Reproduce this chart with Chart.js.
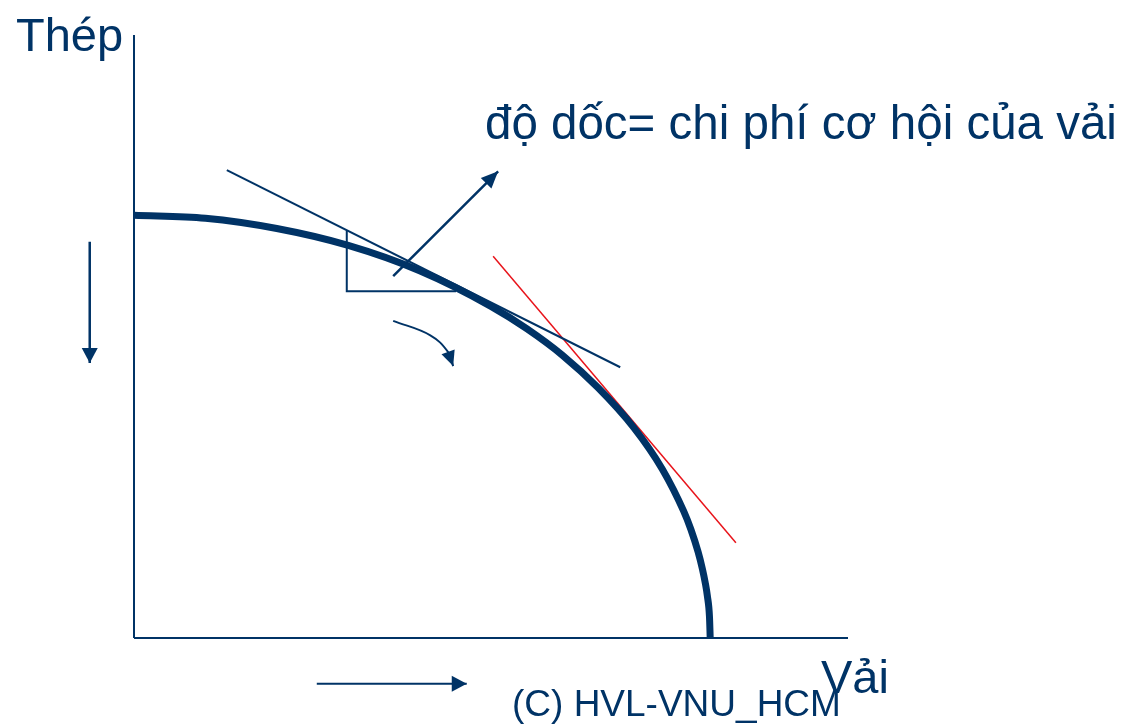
<!DOCTYPE html>
<html>
<head>
<meta charset="utf-8">
<script src="https://cdn.jsdelivr.net/npm/chart.js@4"></script>
<style>
  body { margin: 0; background: #fff; }
  #wrap { width: 1127px; height: 728px; }
</style>
</head>
<body>
<div id="wrap"><canvas id="chartPpf" width="1127" height="728"></canvas></div>
<script>
// đường giới hạn khả năng sản xuất (Vải, Thép)
const ppfX = [0, 10, 20, 30, 40, 50, 55, 60, 65, 70, 74, 77, 78, 79, 79.6, 80, 80.3, 80.6, 80.7];
const ppfY = [70.1, 69.6, 67.9, 65.1, 60.9, 55.0, 51.3, 46.9, 41.5, 34.9, 28.0, 21.0, 18.0, 14.3, 11.5, 9.2, 7.0, 3.5, 0];

// tiếp tuyến
const tangentBlueX = [13.0, 68.1];
const tangentBlueY = [77.6, 44.9];
const tangentRedX = [50.3, 84.3];
const tangentRedY = [63.3, 15.8];

// tam giác độ dốc
const triX = [29.8, 29.8, 45.1];
const triY = [67.5, 57.5, 57.5];

// mũi tên
const arrowSlopeX = [36.3, 51.0];
const arrowSlopeY = [60.0, 77.4];
const arrowCurveX = [36.3, 41.5, 44.0, 44.7];
const arrowCurveY = [52.6, 50.2, 47.4, 45.1];
const arrowDownX = [-6.2, -6.2];
const arrowDownY = [65.7, 45.6];
const arrowRightX = [25.6, 46.6];
const arrowRightY = [-7.6, -7.6];

// trục
const axisYX = [0, 0];
const axisYY = [0, 100];
const axisXX = [0, 100];
const axisXY = [0, 0];

const navy = '#003366';
const pts = (xs, ys) => xs.map((x, i) => ({ x: x, y: ys[i] }));

function line(xs, ys, width, color, extra) {
  return Object.assign({
    data: pts(xs, ys),
    showLine: true,
    borderColor: color || navy,
    borderWidth: width,
    pointRadius: 0,
    fill: false,
    clip: false
  }, extra || {});
}

const arrowPlugin = {
  id: 'arrows',
  afterDatasetsDraw(chart) {
    const ctx = chart.ctx;
    const sx = chart.scales.x, sy = chart.scales.y;
    chart.data.datasets.forEach(ds => {
      if (!ds.arrow) return;
      const n = ds.data.length;
      const a = ds.data[n - 2], b = ds.data[n - 1];
      const x1 = sx.getPixelForValue(a.x), y1 = sy.getPixelForValue(a.y);
      const x2 = sx.getPixelForValue(b.x), y2 = sy.getPixelForValue(b.y);
      const ang = Math.atan2(y2 - y1, x2 - x1);
      const len = ds.arrow.len, half = ds.arrow.w / 2;
      ctx.save();
      ctx.translate(x2, y2);
      ctx.rotate(ang);
      ctx.beginPath();
      ctx.moveTo(0, 0);
      ctx.lineTo(-len, -half);
      ctx.lineTo(-len, half);
      ctx.closePath();
      ctx.fillStyle = navy;
      ctx.fill();
      ctx.restore();
    });
  }
};

const labelPlugin = {
  id: 'labels',
  afterDraw(chart) {
    const ctx = chart.ctx;
    ctx.save();
    ctx.fillStyle = navy;
    ctx.textBaseline = 'alphabetic';
    ctx.textAlign = 'left';
    ctx.font = '47px "Liberation Sans", Arial, sans-serif';
    ctx.fillText('Thép', 16, 51);
    ctx.fillText('Vải', 821, 693);
    ctx.font = '47.5px "Liberation Sans", Arial, sans-serif';
    ctx.fillText('độ dốc= chi phí cơ hội của vải', 485, 139);
    ctx.font = '37px "Liberation Sans", Arial, sans-serif';
    ctx.fillText('(C) HVL-VNU_HCM', 512, 716);
    ctx.restore();
  }
};

new Chart(document.getElementById('chartPpf'), {
  type: 'scatter',
  data: {
    datasets: [
      line(axisYX, axisYY, 2),
      line(axisXX, axisXY, 2),
      line(triX, triY, 2),
      line(tangentBlueX, tangentBlueY, 2),
      line(ppfX, ppfY, 7, navy, { cubicInterpolationMode: 'monotone' }),
      line(tangentRedX, tangentRedY, 1.5, '#e8141b'),
      line(arrowSlopeX, arrowSlopeY, 2.5, navy, { arrow: { len: 17, w: 15 } }),
      line(arrowCurveX, arrowCurveY, 2, navy, { tension: 0.4, arrow: { len: 15, w: 14 } }),
      line(arrowDownX, arrowDownY, 2.5, navy, { arrow: { len: 15, w: 16 } }),
      line(arrowRightX, arrowRightY, 2, navy, { arrow: { len: 15, w: 16 } })
    ]
  },
  options: {
    responsive: false,
    animation: false,
    layout: { padding: { left: 134, right: 279, top: 35, bottom: 90 } },
    plugins: { legend: { display: false }, tooltip: { enabled: false } },
    scales: {
      x: { type: 'linear', min: 0, max: 100, display: false },
      y: { type: 'linear', min: 0, max: 100, display: false }
    }
  },
  plugins: [arrowPlugin, labelPlugin]
});
</script>
</body>
</html>
